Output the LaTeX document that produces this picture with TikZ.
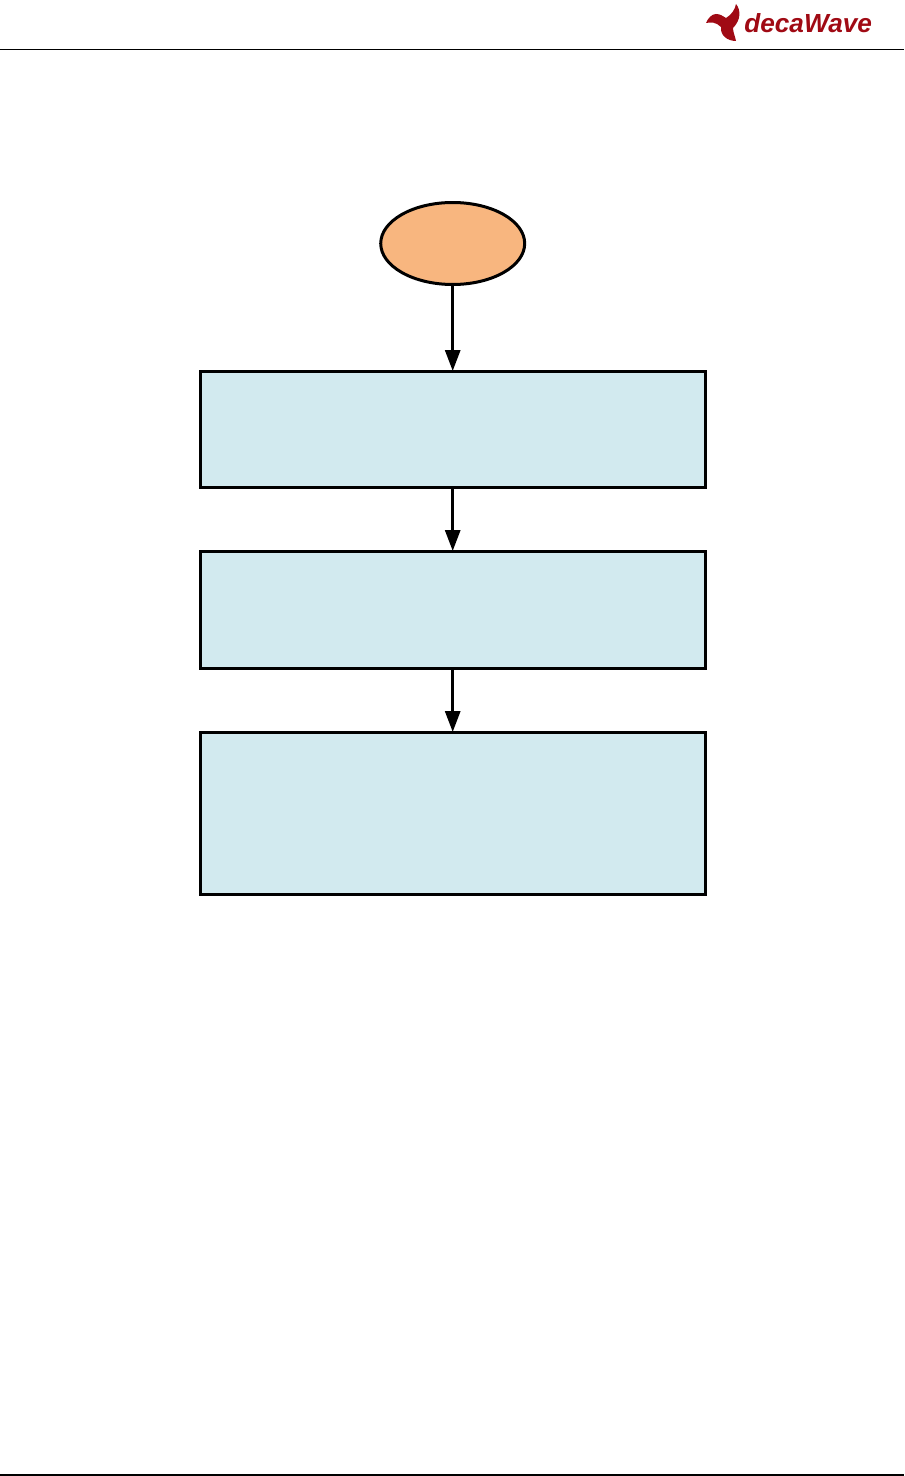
\documentclass[tikz,border=0pt]{standalone}
\usepackage{fontspec}
\setmainfont{Liberation Sans}
\usetikzlibrary{shapes.geometric, positioning, arrows.meta}
\definecolor{logored}{RGB}{160,10,20}
\definecolor{startfill}{RGB}{248,182,127}
\definecolor{boxfill}{RGB}{210,234,239}

\begin{document}
\begin{tikzpicture}[
    x=0.02cm, y=-0.02cm,
    process/.style={rectangle, draw=black, line width=0.06cm, fill=boxfill,
        minimum width=10.1cm, outer sep=0pt},
    start/.style={ellipse, draw=black, line width=0.06cm, fill=startfill,
        minimum width=2.88cm, minimum height=1.64cm, inner sep=0pt, outer sep=0pt},
    flow/.style={-{Triangle[length=0.42cm, width=0.3cm]}, line width=0.06cm},
    rulebar/.style={draw=black, line width=0.03cm}
]
\useasboundingbox (0,0) rectangle (904,1476);

% --- Header and footer ---
\coordinate (headl) at (0,49.5);
\coordinate (headr) at (904,49.5);
\coordinate (footl) at (0,1475);
\coordinate (footr) at (904,1475);
\draw[rulebar] (headl) -- (headr);
\draw[rulebar] (footl) -- (footr);

% --- Logo ---
\fill[logored] (736,4) .. controls (741,10) and (741,20) .. (733,28)
    .. controls (733,32) and (735,36) .. (736,41)
    .. controls (727,41) and (720,35) .. (721,27)
    .. controls (716,22) and (711,22) .. (706,23)
    .. controls (708,18) and (712,14) .. (716,14)
    .. controls (720,14) and (723,16) .. (726,18)
    .. controls (731,15) and (735,10) .. (736,4) -- cycle;
\node[font=\bfseries\itshape\fontsize{14.9pt}{14.9pt}\selectfont, text=logored, anchor=base west, inner sep=0pt] (logo) at (744,32.5) {decaWave};

% --- Flow ---
\node[start] (begin) at (452.7,243.5) {};
\node[process, minimum height=2.34cm] (first) at (453,429.5) {};
\node[process, minimum height=2.36cm] (second) at (453,610) {};
\node[process, minimum height=3.26cm] (third) at (453,813.5) {};

\draw[flow] (begin) -- (begin |- first.north);
\draw[flow] (first.south -| begin) -- (begin |- second.north);
\draw[flow] (second.south -| begin) -- (begin |- third.north);

\end{tikzpicture}
\end{document}
